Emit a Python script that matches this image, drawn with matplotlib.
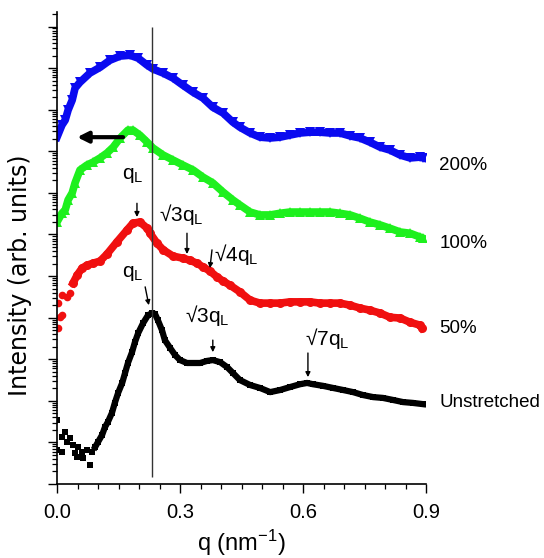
import numpy as np
import matplotlib
import matplotlib.pyplot as plt
import matplotlib.ticker as ticker

matplotlib.use("Agg")

plt.rcParams["font.family"] = ["Liberation Sans", "DejaVu Sans"]
plt.rcParams["mathtext.fontset"] = "custom"
plt.rcParams["mathtext.rm"] = "Liberation Sans"
plt.rcParams["mathtext.it"] = "Liberation Sans"

# Unstretched (black squares); log10 of intensity, arb. units
black_scatter_q = [0.000, 0.000, 0.012, 0.012, 0.020, 0.024, 0.032, 0.039, 0.044, 0.049,
                   0.051, 0.061, 0.063, 0.073, 0.080, 0.085, 0.093]
black_scatter_logi = [0.82, 1.54, 1.13, 0.77, 1.25, 1.01, 1.11, 0.94, 0.75, 0.65,
                      0.89, 0.77, 0.63, 0.82, 0.46, 0.77, 0.89]
black_q = [0.093, 0.100, 0.110, 0.117, 0.124, 0.134, 0.141, 0.149, 0.159, 0.166, 0.173,
           0.183, 0.190, 0.198, 0.210, 0.222, 0.232, 0.239, 0.246, 0.256, 0.263, 0.276,
           0.288, 0.300, 0.317, 0.332, 0.349, 0.366, 0.380, 0.398, 0.415, 0.429, 0.446,
           0.471, 0.495, 0.520, 0.544, 0.568, 0.593, 0.610, 0.624, 0.649, 0.673, 0.698,
           0.722, 0.746, 0.771, 0.795, 0.820, 0.844, 0.868, 0.893]
black_logi = [0.89, 1.01, 1.18, 1.37, 1.49, 1.71, 1.95, 2.19, 2.43, 2.67, 2.91,
              3.17, 3.41, 3.63, 3.87, 4.06, 4.11, 4.09, 3.94, 3.70, 3.46, 3.27,
              3.10, 2.98, 2.91, 2.91, 2.91, 2.96, 2.98, 2.93, 2.81, 2.67, 2.50,
              2.38, 2.31, 2.21, 2.26, 2.33, 2.40, 2.43, 2.40, 2.36, 2.31, 2.26,
              2.21, 2.14, 2.09, 2.07, 2.02, 1.97, 1.95, 1.92]

# 50 % (red circles)
red_scatter_q = [0.002, 0.007, 0.012, 0.002, 0.012, 0.024, 0.032]
red_scatter_logi = [3.75, 4.01, 4.06, 4.35, 4.54, 4.50, 4.59]
red_q = [0.039, 0.049, 0.061, 0.073, 0.088, 0.105, 0.122, 0.146, 0.171, 0.185, 0.202,
         0.220, 0.227, 0.244, 0.259, 0.283, 0.307, 0.324, 0.341, 0.356, 0.373, 0.390,
         0.405, 0.422, 0.446, 0.471, 0.495, 0.520, 0.544, 0.568, 0.593, 0.617, 0.641,
         0.666, 0.690, 0.715, 0.739, 0.763, 0.788, 0.812, 0.837, 0.861, 0.885, 0.890]
red_logi = [4.83, 5.02, 5.19, 5.26, 5.31, 5.36, 5.53, 5.82, 6.11, 6.27, 6.30,
            6.15, 6.03, 5.79, 5.63, 5.48, 5.43, 5.38, 5.31, 5.22, 5.12, 4.98,
            4.88, 4.78, 4.62, 4.42, 4.35, 4.35, 4.35, 4.38, 4.38, 4.38, 4.35,
            4.35, 4.35, 4.30, 4.23, 4.18, 4.11, 4.01, 3.99, 3.89, 3.82, 3.75]

# 100 % (green up-triangles)
green_q = [0.000, 0.012, 0.020, 0.027, 0.037, 0.044, 0.056, 0.073, 0.088, 0.105, 0.122,
           0.137, 0.154, 0.173, 0.185, 0.202, 0.220, 0.234, 0.259, 0.283, 0.307, 0.332,
           0.356, 0.380, 0.405, 0.429, 0.446, 0.471, 0.495, 0.520, 0.544, 0.568, 0.593,
           0.617, 0.641, 0.666, 0.690, 0.715, 0.739, 0.763, 0.788, 0.812, 0.837, 0.861,
           0.885, 0.893]
green_logi = [6.30, 6.51, 6.59, 6.83, 7.00, 7.24, 7.55, 7.67, 7.74, 7.84, 7.96,
              8.10, 8.32, 8.51, 8.51, 8.39, 8.22, 8.08, 7.91, 7.79, 7.67, 7.55,
              7.38, 7.24, 7.02, 6.83, 6.71, 6.54, 6.47, 6.47, 6.51, 6.54, 6.54,
              6.54, 6.54, 6.54, 6.51, 6.47, 6.39, 6.30, 6.23, 6.15, 6.06, 6.03,
              5.94, 5.91]

# 200 % (blue down-triangles)
blue_q = [0.000, 0.012, 0.020, 0.027, 0.037, 0.044, 0.056, 0.080, 0.105, 0.129, 0.154,
          0.178, 0.198, 0.220, 0.234, 0.259, 0.283, 0.307, 0.332, 0.356, 0.380, 0.405,
          0.429, 0.446, 0.471, 0.495, 0.520, 0.544, 0.568, 0.593, 0.617, 0.641, 0.666,
          0.690, 0.715, 0.739, 0.763, 0.788, 0.812, 0.837, 0.861, 0.885, 0.893]
blue_logi = [8.34, 8.63, 8.75, 8.99, 9.23, 9.52, 9.66, 9.88, 10.02, 10.19, 10.29,
             10.31, 10.24, 10.07, 9.98, 9.88, 9.76, 9.59, 9.42, 9.28, 9.06, 8.92,
             8.70, 8.58, 8.44, 8.34, 8.32, 8.34, 8.39, 8.44, 8.46, 8.46, 8.44,
             8.44, 8.37, 8.32, 8.22, 8.10, 8.03, 7.91, 7.84, 7.86, 7.84]

Q_LINE = 0.232
CURVE_LABELS = ["200%", "100%", "50%", "Unstretched"]
CURVE_LABEL_LOGI = [7.67, 5.79, 3.75, 1.97]

# (text, text q, text logI, arrow tail q, tail logI, tip q, tip logI)
PEAK_MARKS = [
    ("q$_\\mathregular{L}$", 0.185, 7.43, 0.195, 6.75, 0.195, 6.42),
    ("√3q$_\\mathregular{L}$", 0.302, 6.49, 0.317, 6.03, 0.317, 5.53),
    ("√4q$_\\mathregular{L}$", 0.437, 5.53, 0.378, 5.63, 0.373, 5.19),
    ("q$_\\mathregular{L}$", 0.185, 5.07, 0.215, 4.74, 0.224, 4.30),
    ("√3q$_\\mathregular{L}$", 0.366, 4.06, 0.380, 3.46, 0.380, 3.17),
    ("√7q$_\\mathregular{L}$", 0.659, 3.49, 0.612, 3.15, 0.612, 2.57),
]


def exp10(v):
    return 10.0 ** np.asarray(v)


fig = plt.figure(figsize=(5.44, 5.58), dpi=100)
ax = fig.add_axes([0.1048, 0.1326, 0.6783, 0.8459])

# curves
ax.plot(blue_q, exp10(blue_logi), color="#0a0af0", lw=5.5, marker="v", ms=7, mew=0)
ax.plot(green_q, exp10(green_logi), color="#1ef01e", lw=5.5, marker="^", ms=7, mew=0)
ax.plot(red_q, exp10(red_logi), color="#f01010", lw=5.5, marker="o", ms=6.5, mew=0)
ax.plot(red_scatter_q, exp10(red_scatter_logi), ls="none", color="#f01010", marker="o", ms=5.5, mew=0)
ax.plot(black_q, exp10(black_logi), color="black", lw=4.5, marker="s", ms=5, mew=0)
ax.plot(black_scatter_q, exp10(black_scatter_logi), ls="none", color="black", marker="s", ms=4.5, mew=0)

ax.vlines(Q_LINE, 10 ** 0.17, 10 ** 11.0, color="#333333", lw=1.0)

# shift arrow
ax.annotate("", xy=(0.049, 10 ** 8.34), xytext=(0.161, 10 ** 8.34),
            arrowprops=dict(arrowstyle="-|>", lw=3, color="black", mutation_scale=16,
                            shrinkA=0, shrinkB=0))

for txt, tq, tl, aq, al, bq, bl in PEAK_MARKS:
    ax.text(tq, 10 ** tl, txt, fontsize=15, ha="center", va="center")
    ax.annotate("", xy=(bq, 10 ** bl), xytext=(aq, 10 ** al),
                arrowprops=dict(arrowstyle="-|>", lw=1.0, color="black", mutation_scale=7,
                                shrinkA=0, shrinkB=0))

for lbl, lv in zip(CURVE_LABELS, CURVE_LABEL_LOGI):
    ax.text(0.932, 10 ** lv, lbl, fontsize=13.5, ha="left", va="center", clip_on=False)

ax.set_yscale("log")
ax.set_xlim(0, 0.9)
ax.set_ylim(1, 10 ** 11.35)
ax.xaxis.set_major_locator(ticker.MultipleLocator(0.3))
ax.xaxis.set_minor_locator(ticker.MultipleLocator(0.05))
ax.xaxis.set_major_formatter(ticker.FormatStrFormatter("%.1f"))
ax.yaxis.set_major_locator(ticker.LogLocator(base=10, numticks=20))
ax.yaxis.set_minor_locator(ticker.LogLocator(base=10, subs=np.arange(2, 10), numticks=20))
ax.yaxis.set_major_formatter(ticker.NullFormatter())
ax.yaxis.set_minor_formatter(ticker.NullFormatter())

ax.tick_params(axis="both", which="major", direction="out", length=6.5, width=1.0,
               labelsize=14.5, pad=7)
ax.tick_params(axis="both", which="minor", direction="out", length=3.5, width=0.9)
for side in ("top", "right"):
    ax.spines[side].set_visible(False)
for side in ("left", "bottom"):
    ax.spines[side].set_linewidth(1.2)

ax.set_xlabel("q (nm$^{\\mathregular{-1}}$)", fontsize=17, labelpad=4)
ax.set_ylabel("Intensity (arb. units)", fontsize=17, family="DejaVu Sans")
ax.yaxis.set_label_coords(-0.068, 0.443)

fig.savefig("out.png", dpi=100)
